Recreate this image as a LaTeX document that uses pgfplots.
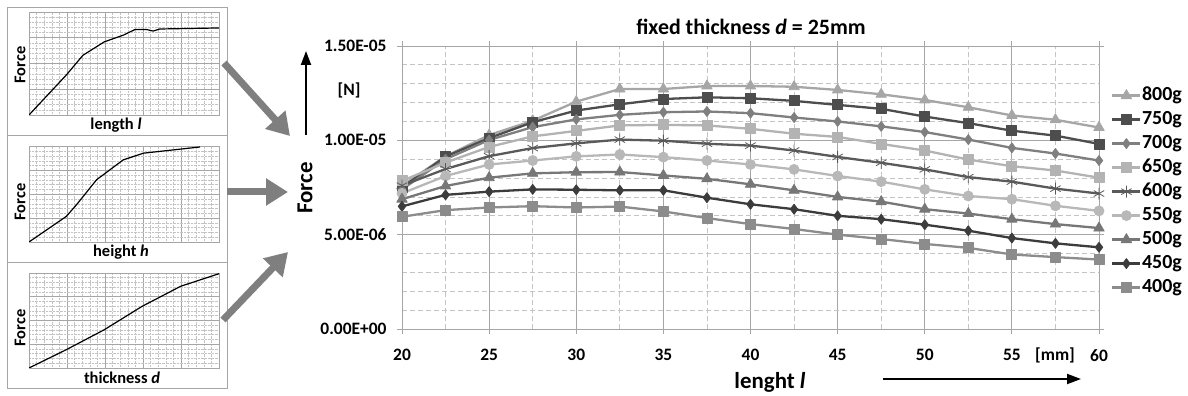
\documentclass[border=0pt]{standalone}
\usepackage{fontspec}
\setmainfont{Carlito}
\usepackage{pgfplots}
\pgfplotsset{compat=1.18}
\usepackage{pgfplotstable}
\usetikzlibrary{arrows.meta}

\definecolor{c800}{HTML}{A6A6A6}
\definecolor{c750}{HTML}{4D4D4D}
\definecolor{c700}{HTML}{7F7F7F}
\definecolor{c650}{HTML}{B3B3B3}
\definecolor{c600}{HTML}{5A5A5A}
\definecolor{c550}{HTML}{B8B8B8}
\definecolor{c500}{HTML}{777777}
\definecolor{c450}{HTML}{3C3C3C}
\definecolor{c400}{HTML}{8C8C8C}
\definecolor{gmaj}{HTML}{A6A6A6}
\definecolor{gmin}{HTML}{C4C4C4}
\definecolor{arr}{HTML}{7F7F7F}

\pgfplotstableread{
x    g800    g750    g700    g650    g600    g550    g500    g450    g400
20   7.60e-6 7.50e-6 7.40e-6 7.85e-6 7.60e-6 7.19e-6 6.88e-6 6.50e-6 5.95e-6
22.5 9.15e-6 9.14e-6 9.00e-6 8.82e-6 8.48e-6 8.11e-6 7.58e-6 7.11e-6 6.30e-6
25   10.28e-6 10.12e-6 10.02e-6 9.65e-6 9.16e-6 8.72e-6 8.02e-6 7.28e-6 6.44e-6
27.5 11.04e-6 10.96e-6 10.70e-6 10.21e-6 9.59e-6 8.93e-6 8.25e-6 7.40e-6 6.51e-6
30   12.05e-6 11.58e-6 11.11e-6 10.50e-6 9.84e-6 9.15e-6 8.31e-6 7.38e-6 6.44e-6
32.5 12.72e-6 11.91e-6 11.35e-6 10.79e-6 10.04e-6 9.25e-6 8.32e-6 7.35e-6 6.49e-6
35   12.72e-6 12.19e-6 11.49e-6 10.82e-6 9.98e-6 9.11e-6 8.14e-6 7.35e-6 6.23e-6
37.5 12.88e-6 12.28e-6 11.53e-6 10.79e-6 9.82e-6 8.93e-6 7.96e-6 6.96e-6 5.88e-6
40   12.88e-6 12.23e-6 11.44e-6 10.61e-6 9.72e-6 8.72e-6 7.67e-6 6.61e-6 5.56e-6
42.5 12.84e-6 12.09e-6 11.21e-6 10.35e-6 9.46e-6 8.46e-6 7.35e-6 6.35e-6 5.30e-6
45   12.67e-6 11.88e-6 11.00e-6 10.18e-6 9.12e-6 8.11e-6 7.00e-6 6.00e-6 5.00e-6
47.5 12.44e-6 11.67e-6 10.74e-6 9.81e-6 8.81e-6 7.81e-6 6.75e-6 5.82e-6 4.77e-6
50   12.14e-6 11.26e-6 10.44e-6 9.46e-6 8.46e-6 7.40e-6 6.35e-6 5.53e-6 4.51e-6
52.5 11.75e-6 10.91e-6 10.04e-6 8.98e-6 8.05e-6 7.05e-6 6.12e-6 5.21e-6 4.30e-6
55   11.32e-6 10.51e-6 9.60e-6 8.63e-6 7.81e-6 6.88e-6 5.82e-6 4.82e-6 3.95e-6
57.5 11.09e-6 10.25e-6 9.30e-6 8.40e-6 7.44e-6 6.53e-6 5.56e-6 4.54e-6 3.81e-6
60   10.68e-6 9.81e-6 8.93e-6 8.02e-6 7.18e-6 6.26e-6 5.35e-6 4.33e-6 3.68e-6
}\forcedata

\pgfplotsset{
  inset/.style={anchor=south west, width=190bp, scale only axis,
    xmin=0, xmax=5, ymin=0, ymax=4,
    xtick={0,1,2,3,4,5}, ytick={0,1,2,3,4},
    xticklabels={}, yticklabels={},
    minor tick num=4, grid=both,
    major grid style={draw=gmaj, line width=0.6bp},
    minor grid style={draw=gmin, densely dotted, line width=0.5bp},
    axis line style={draw=gmaj, line width=0.6bp},
    tick style={draw=none}},
  ser/.style 2 args={color=#1, line width=2.3bp, mark=#2, line join=round,
    mark options={solid, fill=#1, draw=#1, line width=0.8bp}},
}

\begin{document}
\begin{tikzpicture}
\path[use as bounding box] (0bp,0bp) rectangle (1188bp,396bp);

% ---- inset panels ----
\draw[gmaj, line width=0.8bp] (7bp,261bp) rectangle (227bp,389bp);
\draw[gmaj, line width=0.8bp] (7bp,134bp) rectangle (227bp,261bp);
\draw[gmaj, line width=0.8bp] (7bp,8bp) rectangle (227bp,134bp);

\begin{axis}[inset, at={(29bp,281bp)}, height=103bp]
\addplot[black, line width=1.2bp] coordinates {(0,0) (0.98,1.55) (1.42,2.32) (1.98,2.84) (2.48,3.10) (2.79,3.32) (3.09,3.32) (3.27,3.26) (3.44,3.34) (5,3.38)};
\end{axis}
\begin{axis}[inset, at={(29bp,154bp)}, height=95.5bp]
\addplot[black, line width=1.2bp] coordinates {(0,0) (0.98,1.07) (1.25,1.56) (1.78,2.61) (2.48,3.44) (3.01,3.72) (4.5,3.98)};
\end{axis}
\begin{axis}[inset, at={(29bp,28bp)}, height=95bp]
\addplot[black, line width=1.2bp] coordinates {(0,0) (0.98,0.77) (1.98,1.61) (2.98,2.60) (3.99,3.44) (5,3.97)};
\end{axis}

\begin{scope}[font=\fontsize{16.5}{19}\selectfont\bfseries]
\node[rotate=90] at (20bp,331bp) {Force};
\node[rotate=90] at (20bp,194bp) {Force};
\node[rotate=90] at (20bp,68bp) {Force};
\node at (116bp,271bp) {length \textit{l}};
\node at (121bp,144bp) {height \textit{h}};
\node at (122bp,18bp) {thickness \textit{d}};
\end{scope}

\begin{scope}[arr, line width=7bp, -{Triangle[width=26bp,length=22bp]}]
\draw (224bp,333bp) -- (290bp,260bp);
\draw (227bp,204bp) -- (288bp,204bp);
\draw (223bp,76bp) -- (288bp,144bp);
\end{scope}

% ---- main chart ----
\begin{axis}[at={(402bp,67bp)}, anchor=south west, width=697bp, height=283bp, scale only axis,
  xmin=20, xmax=60, ymin=0, ymax=1.5e-5,
  xtick={20,25,30,35,40,45,50,55,60}, xticklabels={20,25,30,35,40,45,50,55,60},
  ytick={0,5e-6,1e-5,1.5e-5}, yticklabels={0.00E+00,5.00E-06,1.00E-05,1.50E-05},
  scaled y ticks=false,
  minor x tick num=1, minor y tick num=4,
  grid=both,
  major grid style={draw=gmaj, line width=0.8bp},
  minor grid style={draw=gmin, dash pattern=on 5bp off 3bp, line width=0.8bp},
  axis line style={draw=gmaj, line width=0.8bp},
  tick align=outside, major tick length=5bp, minor tick length=0pt,
  tick style={draw=gmaj, line width=0.8bp},
  ticklabel style={font=\fontsize{17.5}{20}\selectfont\bfseries},
  xticklabel style={yshift=-12bp},
  yticklabel style={xshift=-7bp},
  legend style={at={(1.013,0.866)}, anchor=north west, draw=none, fill=none,
    font=\fontsize{20}{24}\selectfont\bfseries, row sep=5bp,
    nodes={inner sep=0.5bp, text height=14bp, text depth=4bp}},
  legend cell align=left,
  legend image code/.code={\draw[mark repeat=2, mark phase=2] plot coordinates {(0bp,0bp) (14bp,0bp) (28bp,0bp)};},
]
\addplot[ser={c800}{triangle*}, mark size=6bp] table[x=x, y=g800] {\forcedata};
\addlegendentry{800g}
\addplot[ser={c750}{square*}, mark size=5bp] table[x=x, y=g750] {\forcedata};
\addlegendentry{750g}
\addplot[ser={c700}{diamond*}, mark size=5bp] table[x=x, y=g700] {\forcedata};
\addlegendentry{700g}
\addplot[ser={c650}{square*}, mark size=5bp] table[x=x, y=g650] {\forcedata};
\addlegendentry{650g}
\addplot[ser={c600}{asterisk}, mark size=6bp] table[x=x, y=g600] {\forcedata};
\addlegendentry{600g}
\addplot[ser={c550}{*}, mark size=5bp] table[x=x, y=g550] {\forcedata};
\addlegendentry{550g}
\addplot[ser={c500}{triangle*}, mark size=6bp] table[x=x, y=g500] {\forcedata};
\addlegendentry{500g}
\addplot[ser={c450}{diamond*}, mark size=5bp] table[x=x, y=g450] {\forcedata};
\addlegendentry{450g}
\addplot[ser={c400}{square*}, mark size=5bp] table[x=x, y=g400] {\forcedata};
\addlegendentry{400g}
\end{axis}

\node[font=\fontsize{22}{26}\selectfont\bfseries] at (751bp,369bp) {fixed thickness \textit{d} = 25mm};
\node[rotate=90, font=\fontsize{23}{26}\selectfont\bfseries] at (305bp,208bp) {Force};
\node[font=\fontsize{17.5}{20}\selectfont\bfseries] at (349bp,306bp) {[N]};
\draw[black, line width=2bp, -{Triangle[width=10bp,length=14bp]}] (306bp,261bp) -- (306bp,345bp);
\node[font=\fontsize{23}{26}\selectfont\bfseries] at (770bp,14bp) {lenght \textit{l}};
\draw[black, line width=2bp, -{Triangle[width=10bp,length=14bp]}] (883bp,17bp) -- (1081bp,17bp);
\node[font=\fontsize{17.5}{20}\selectfont\bfseries] at (1055bp,41bp) {[mm]};
\end{tikzpicture}
\end{document}
